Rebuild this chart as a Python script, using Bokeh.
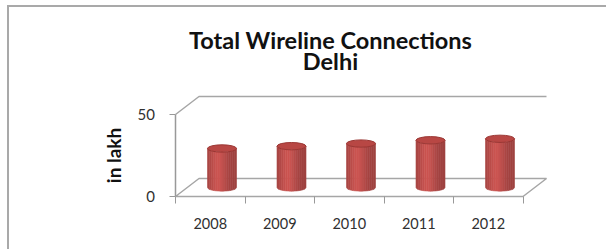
import numpy as np
from bokeh.plotting import figure
from bokeh.models import Range1d, FixedTicker
from bokeh.core.properties import value
from bokeh.embed import file_html
from bokeh.resources import INLINE

# ---- data ----
years = ["2008", "2009", "2010", "2011", "2012"]
connections = [23.8, 25.2, 26.8, 28.8, 29.7]  # total wireline connections, in lakh
y_ticks = [0, 50]
y_tick_labels = ["0", "50"]
title_line1 = "Total Wireline Connections"
title_line2 = "Delhi"
y_label = "in lakh"

FONT = "Lato"
GRID = "#a6a6a6"
AXIS = "#999999"
LABEL = "#303030"

# ---- layout constants (page px) ----
OX, OY = 9, 7              # page position of the chart area (inside its border)
W, H = 599, 244
AX_X, AX_Y = 175, 196      # page position of the value-axis / category-axis origin
SX = 69.5                  # px per category
SY = 1.64                  # px per lakh
FRAME_BOTTOM = 203         # page y of the plot frame bottom (category axis)
x_start = (OX - AX_X) / SX
x_end = (OX + W - AX_X) / SX
y_start = (AX_Y - FRAME_BOTTOM) / SY
y_end = (AX_Y - OY) / SY

def px_x(px):   # page px -> category units (for text placement)
    return (px - AX_X) / SX

def px_y(py):   # page px -> value units (for text placement)
    return (AX_Y - py) / SY

DEPTH_X = 23.5 / SX        # 3-D depth offset in category units
DEPTH_Y = 18.0 / SY        # 3-D depth offset in value units
n = len(years)
ymax = y_ticks[-1]

p = figure(width=W, height=H, output_backend="svg", toolbar_location=None,
           x_range=Range1d(x_start, x_end), y_range=Range1d(y_start, y_end),
           min_border_left=0, min_border_right=0, min_border_top=0,
           min_border_bottom=OY + H - FRAME_BOTTOM,
           background_fill_color="white", border_fill_color="white",
           outline_line_color=None,
           styles={"margin-left": "7px", "margin-top": "5px",
                   "border-top": "2px solid #a9a9a9", "border-left": "2px solid #a9a9a9"})
p.grid.visible = False
p.yaxis.visible = False

# ---- titles ----
p.text(x=[px_x(330)] * 2, y=[px_y(39.5), px_y(60.5)], text=[title_line1, title_line2],
       text_align="center", text_baseline="alphabetic",
       text_font=value(FONT), text_font_size="23.5px", text_font_style="bold",
       text_color="#111111")

# ---- value axis (ticks, labels, title) ----
p.segment(x0=[px_x(169)] * len(y_ticks), y0=y_ticks, x1=[0] * len(y_ticks), y1=y_ticks,
          line_color=AXIS, line_width=1.2)
p.text(x=[px_x(154.5)] * len(y_ticks), y=y_ticks, text=y_tick_labels,
       text_align="right", text_baseline="middle",
       text_font=value(FONT), text_font_size="15px", text_color=LABEL)
p.text(x=[px_x(113)], y=[ymax / 2], text=[y_label], angle=np.pi / 2,
       text_align="center", text_baseline="middle",
       text_font=value(FONT), text_font_size="19px", text_font_style="bold",
       text_color="#111111")

# ---- 3-D frame lines ----
p.line([0, DEPTH_X, n + DEPTH_X], [ymax, ymax + DEPTH_Y, ymax + DEPTH_Y],
       line_color=GRID, line_width=1.5)
p.line([0, DEPTH_X, n + DEPTH_X, n, 0], [0, DEPTH_Y, DEPTH_Y, 0, 0],
       line_color=GRID, line_width=1.5)
p.line([0, 0], [0, ymax], line_color=AXIS, line_width=1.5)

# ---- cylinders ----
cw = 29.0 / SX
eh = 7.3 / SY
base = DEPTH_Y / 2
NS = 14
xs_all, ys_all, cols = [], [], []
base_rgb = np.array([192, 80, 77])
for i, v in enumerate(connections):
    cx = i + 0.5 + DEPTH_X / 2
    for k in range(NS):
        x1 = cx - cw / 2 + k * cw / NS
        x2 = x1 + cw / NS
        xx = np.linspace(x1, x2, 5)
        r = np.clip((xx - cx) / (cw / 2), -1, 1)
        arc = eh / 2 * np.sqrt(1 - r ** 2)
        bot = base - arc
        top = base + v - arc
        xs_all.append(list(xx) + list(xx[::-1]))
        ys_all.append(list(bot) + list(top[::-1]))
        tt = (k + 0.5) / NS
        f = 0.82 + 0.24 * np.exp(-((tt - 0.38) / 0.3) ** 2)
        c = np.clip(base_rgb * f, 0, 255).astype(int)
        cols.append("#%02x%02x%02x" % tuple(c))
p.patches(xs_all, ys_all, fill_color=cols, line_color=cols, line_width=0.6)
cxs = [i + 0.5 + DEPTH_X / 2 for i in range(n)]
tops = [base + v for v in connections]
p.ellipse(x=cxs, y=tops, width=cw, height=eh, fill_color="#b84744",
          line_color="#9a3633", line_width=1)

# ---- category axis ----
xa = p.xaxis[0]
xa.ticker = FixedTicker(ticks=[i + 0.5 for i in range(n)], minor_ticks=list(range(n + 1)))
xa.major_label_overrides = {i + 0.5: y for i, y in enumerate(years)}
xa.axis_line_color = None
xa.major_tick_line_color = None
xa.major_tick_in = 0
xa.major_tick_out = 0
xa.minor_tick_line_color = AXIS
xa.minor_tick_in = FRAME_BOTTOM - AX_Y
xa.minor_tick_out = 0
xa.major_label_standoff = 14
xa.major_label_text_font = FONT
xa.major_label_text_font_size = "14.5px"
xa.major_label_text_color = LABEL

open("out.html", "w").write(file_html(p, INLINE))
